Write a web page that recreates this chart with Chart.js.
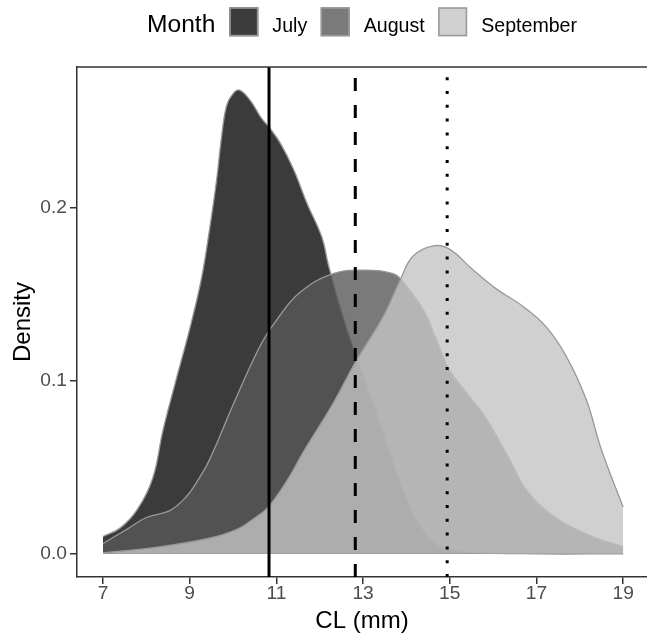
<!DOCTYPE html>
<html>
<head>
<meta charset="utf-8">
<title>CL density by month</title>
<script src="https://cdn.jsdelivr.net/npm/chart.js@4.4.1/dist/chart.umd.min.js"></script>
<style>
  html, body { margin: 0; padding: 0; background: #fff; overflow: hidden; }
</style>
</head>
<body>
<canvas id="grafico-densidad" width="647" height="636"></canvas>
<script>
const legendTitle = "Month";
const months = ["July", "August", "September"];

// density curves (CL in mm, density)
const julyCL = [7.0, 7.4, 7.8, 8.15, 8.38, 8.69, 9.0, 9.27, 9.46, 9.62, 9.73, 9.85, 10.0, 10.15, 10.4, 10.65, 10.85, 11.1, 11.4, 11.7, 12.05, 12.2, 12.5, 12.8, 13.15, 13.6, 14.0, 14.4, 14.8, 15.5, 17.0, 19.0];
const julyDensity = [0.010, 0.015, 0.026, 0.044, 0.071, 0.101, 0.130, 0.159, 0.188, 0.216, 0.240, 0.259, 0.266, 0.268, 0.262, 0.252, 0.246, 0.237, 0.222, 0.203, 0.183, 0.167, 0.140, 0.117, 0.093, 0.060, 0.032, 0.013, 0.004, 0.001, 0.000, 0.000];

const augustCL = [7.0, 7.54, 8.0, 8.54, 8.92, 9.2, 9.45, 10.0, 10.62, 11.0, 11.54, 12.31, 13.08, 13.69, 13.9, 14.39, 14.69, 15.0, 15.39, 15.77, 16.31, 16.77, 17.39, 18.2, 19.0];
const augustDensity = [0.006, 0.014, 0.021, 0.025, 0.033, 0.043, 0.054, 0.086, 0.120, 0.135, 0.151, 0.162, 0.164, 0.162, 0.158, 0.141, 0.124, 0.106, 0.093, 0.081, 0.058, 0.037, 0.022, 0.011, 0.004];

const septemberCL = [7.0, 8.3, 9.45, 10.08, 10.46, 10.77, 11.08, 11.38, 11.6, 12.31, 12.85, 13.46, 13.85, 14.15, 14.62, 15.0, 15.54, 16.08, 16.69, 17.23, 17.69, 18.15, 18.5, 19.0];
const septemberDensity = [0.0005, 0.004, 0.009, 0.014, 0.020, 0.026, 0.036, 0.048, 0.058, 0.087, 0.112, 0.137, 0.158, 0.172, 0.178, 0.176, 0.164, 0.153, 0.143, 0.131, 0.114, 0.089, 0.060, 0.027];

// mean CL per month (vertical lines)
const meanCL = [10.83, 12.82, 14.94];

const xTicks = [7, 9, 11, 13, 15, 17, 19];
const yTicks = [0, 0.1, 0.2];

const X_MIN = 6.4, X_MAX = 19.55;
const Y_MIN = -0.0134, Y_MAX = 0.2814;

const FONT = "'Liberation Sans', Arial, Helvetica, sans-serif";
const fills = ["rgba(10,10,10,0.8)", "rgba(89,89,89,0.8)", "rgba(196,196,196,0.8)"];
const dashes = [[], [13, 14], [3, 10.8]];

function toPoints(xs, ys) {
  return xs.map((x, i) => ({ x, y: ys[i] }));
}

const curves = [
  toPoints(julyCL, julyDensity),
  toPoints(augustCL, augustDensity),
  toPoints(septemberCL, septemberDensity),
];

const densityDatasets = months.map((m, i) => ({
  label: m,
  isMonth: true,
  data: curves[i],
  backgroundColor: fills[i],
  borderColor: "#999999",
  borderWidth: 1.3,
  fill: "origin",
  pointRadius: 0,
  tension: 0.4,
  order: 3 - i, // July drawn first, September on top
}));

const meanDatasets = meanCL.map((v, i) => ({
  label: `mean ${months[i]}`,
  data: [{ x: v, y: Y_MIN }, { x: v, y: Y_MAX }],
  borderColor: "#000000",
  borderWidth: 3,
  borderDash: dashes[i],
  borderCapStyle: "butt",
  fill: false,
  pointRadius: 0,
  order: 0,
}));

// top edge of the panel border (left and bottom come from the axes)
const panelTop = {
  id: "panelTop",
  afterDraw(chart) {
    const { ctx, chartArea } = chart;
    ctx.save();
    ctx.strokeStyle = "#333333";
    ctx.lineWidth = 1.5;
    ctx.beginPath();
    ctx.moveTo(chartArea.left, chartArea.top);
    ctx.lineTo(chartArea.right + 2, chartArea.top);
    ctx.stroke();
    ctx.restore();
  },
};

// ggplot style legend: title then key + label in one row
const monthLegend = {
  id: "monthLegend",
  afterDraw(chart) {
    const { ctx, chartArea } = chart;
    const items = chart.data.datasets.filter((d) => d.isMonth);
    const key = 29, gapKey = 14, gapItem = 13.5, baseline = 31.5, keyTop = 7.3;
    const titleFont = `24.6px ${FONT}`;
    const labelFont = `19.6px ${FONT}`;

    ctx.save();
    ctx.font = titleFont;
    const titleW = ctx.measureText(legendTitle).width;
    ctx.font = labelFont;
    const labelW = items.map((d) => ctx.measureText(d.label).width);

    let total = titleW + gapKey;
    labelW.forEach((w, i) => {
      total += key + gapKey + w + (i < labelW.length - 1 ? gapItem : 0);
    });
    let x = (chartArea.left + chartArea.right) / 2 - total / 2;

    ctx.fillStyle = "#000000";
    ctx.textBaseline = "alphabetic";
    ctx.textAlign = "left";
    ctx.font = titleFont;
    ctx.fillText(legendTitle, x, baseline);
    x += titleW + gapKey;

    ctx.font = labelFont;
    items.forEach((d, i) => {
      ctx.fillStyle = "#ffffff";
      ctx.fillRect(x, keyTop, key, key);
      ctx.fillStyle = d.backgroundColor;
      ctx.fillRect(x, keyTop, key, key);
      ctx.strokeStyle = "#999999";
      ctx.lineWidth = 1.5;
      ctx.strokeRect(x + 0.75, keyTop + 0.75, key - 1.5, key - 1.5);
      x += key + gapKey;
      ctx.fillStyle = "#000000";
      ctx.fillText(d.label, x, baseline);
      x += labelW[i] + gapItem;
    });
    ctx.restore();
  },
};

new Chart(document.getElementById("grafico-densidad"), {
  type: "line",
  data: { datasets: [...densityDatasets, ...meanDatasets] },
  options: {
    responsive: false,
    animation: false,
    layout: { padding: { top: 67, left: 0, right: 0, bottom: 0 } },
    plugins: {
      legend: { display: false },
      tooltip: { enabled: false },
    },
    scales: {
      x: {
        type: "linear",
        min: X_MIN,
        max: X_MAX,
        afterBuildTicks: (scale) => {
          scale.ticks = xTicks.map((v) => ({ value: v }));
        },
        afterFit: (scale) => {
          scale.height = 59;
        },
        ticks: {
          color: "#4d4d4d",
          font: { family: FONT, size: 19.2, lineHeight: 1 },
          padding: 0,
          maxRotation: 0,
          autoSkip: false,
        },
        grid: {
          display: true,
          drawOnChartArea: false,
          drawTicks: true,
          tickLength: 7,
          color: "#333333",
          lineWidth: 1.5,
        },
        border: { display: true, color: "#333333", width: 1.5 },
        title: {
          display: true,
          text: "CL (mm)",
          color: "#000000",
          font: { family: FONT, size: 24 },
          padding: { top: 0, bottom: 0.5 },
        },
      },
      y: {
        type: "linear",
        min: Y_MIN,
        max: Y_MAX,
        afterBuildTicks: (scale) => {
          scale.ticks = yTicks.map((v) => ({ value: v }));
        },
        afterFit: (scale) => {
          scale.width = 77;
        },
        ticks: {
          color: "#4d4d4d",
          font: { family: FONT, size: 19.2 },
          padding: 3,
          callback: (v) => Number(v).toFixed(1),
        },
        grid: {
          display: true,
          drawOnChartArea: false,
          drawTicks: true,
          tickLength: 7,
          color: "#333333",
          lineWidth: 1.5,
        },
        border: { display: true, color: "#333333", width: 1.5 },
        title: {
          display: true,
          text: "Density",
          color: "#000000",
          font: { family: FONT, size: 24 },
          padding: { top: 9, bottom: 0 },
        },
      },
    },
  },
  plugins: [panelTop, monthLegend],
});
</script>
</body>
</html>
